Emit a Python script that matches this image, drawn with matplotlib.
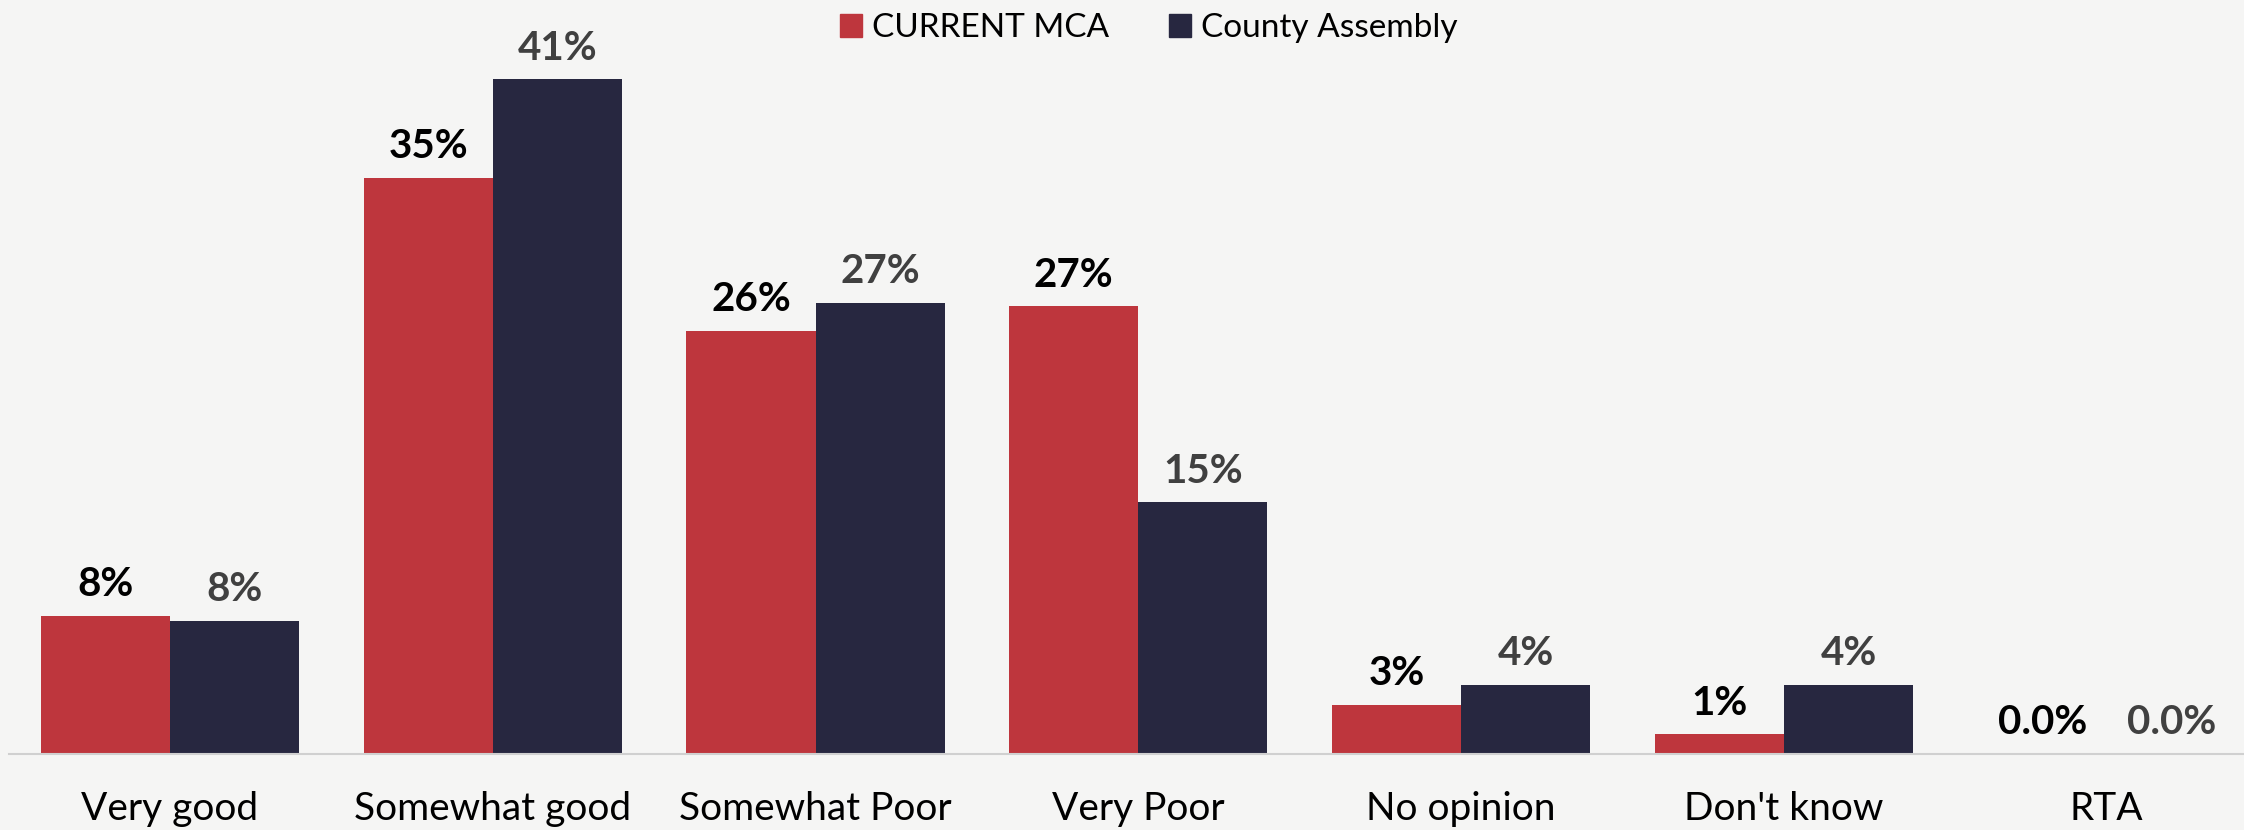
import matplotlib
matplotlib.use("Agg")
import matplotlib.pyplot as plt
import numpy as np
from matplotlib.patches import Patch

categories = ["Very good", "Somewhat good", "Somewhat Poor", "Very Poor", "No opinion", "Don't know", "RTA"]
current_mca = [8.4, 35.0, 25.7, 27.2, 3.0, 1.2, 0.0]
county_assembly = [8.1, 41.0, 27.4, 15.3, 4.2, 4.2, 0.0]
labels_mca = ["8%", "35%", "26%", "27%", "3%", "1%", "0.0%"]
labels_ca = ["8%", "41%", "27%", "15%", "4%", "4%", "0.0%"]

RED = "#BE363D"
NAVY = "#272740"
BG = "#f5f5f4"

plt.rcParams['font.family'] = ['Lato', 'DejaVu Sans']

fig = plt.figure(figsize=(22.44, 8.30), dpi=100, facecolor=BG)
ax = fig.add_axes([0.0038, 0.0916, 0.9962, 0.9084])
ax.set_facecolor(BG)

x = np.arange(len(categories))
w = 0.4
ax.bar(x - w/2, current_mca, w, color=RED, label="CURRENT MCA")
ax.bar(x + w/2, county_assembly, w, color=NAVY, label="County Assembly")

for xi, v, t in zip(x, current_mca, labels_mca):
    ax.annotate(t, (xi - w/2, v), xytext=(0, 9), textcoords="offset points",
                ha="center", va="bottom", fontsize=29, fontweight="bold", color="#000000")
for xi, v, t in zip(x, county_assembly, labels_ca):
    ax.annotate(t, (xi + w/2, v), xytext=(0, 9), textcoords="offset points",
                ha="center", va="bottom", fontsize=29, fontweight="bold", color="#404040")

ax.set_xlim(-0.5, 6.425)
ax.set_ylim(0, 45.8)
ax.set_xticks(x)
ax.set_xticklabels(categories, fontsize=28, color="black")
ax.tick_params(axis="x", length=0, pad=27)
ax.set_yticks([])
for s in ["top", "right", "left"]:
    ax.spines[s].set_visible(False)
ax.spines["bottom"].set_color("#d0d0d0")
ax.spines["bottom"].set_linewidth(1.5)

handles = [Patch(color=RED, label="CURRENT MCA"), Patch(color=NAVY, label="County Assembly")]
fig.legend(handles=handles, loc="center", bbox_to_anchor=(0.512, 0.966), ncol=2, frameon=False,
           fontsize=24, handlelength=0.65, handleheight=0.65, handletextpad=0.3, columnspacing=1.8)

fig.savefig("out.png", dpi=100, facecolor=BG)
